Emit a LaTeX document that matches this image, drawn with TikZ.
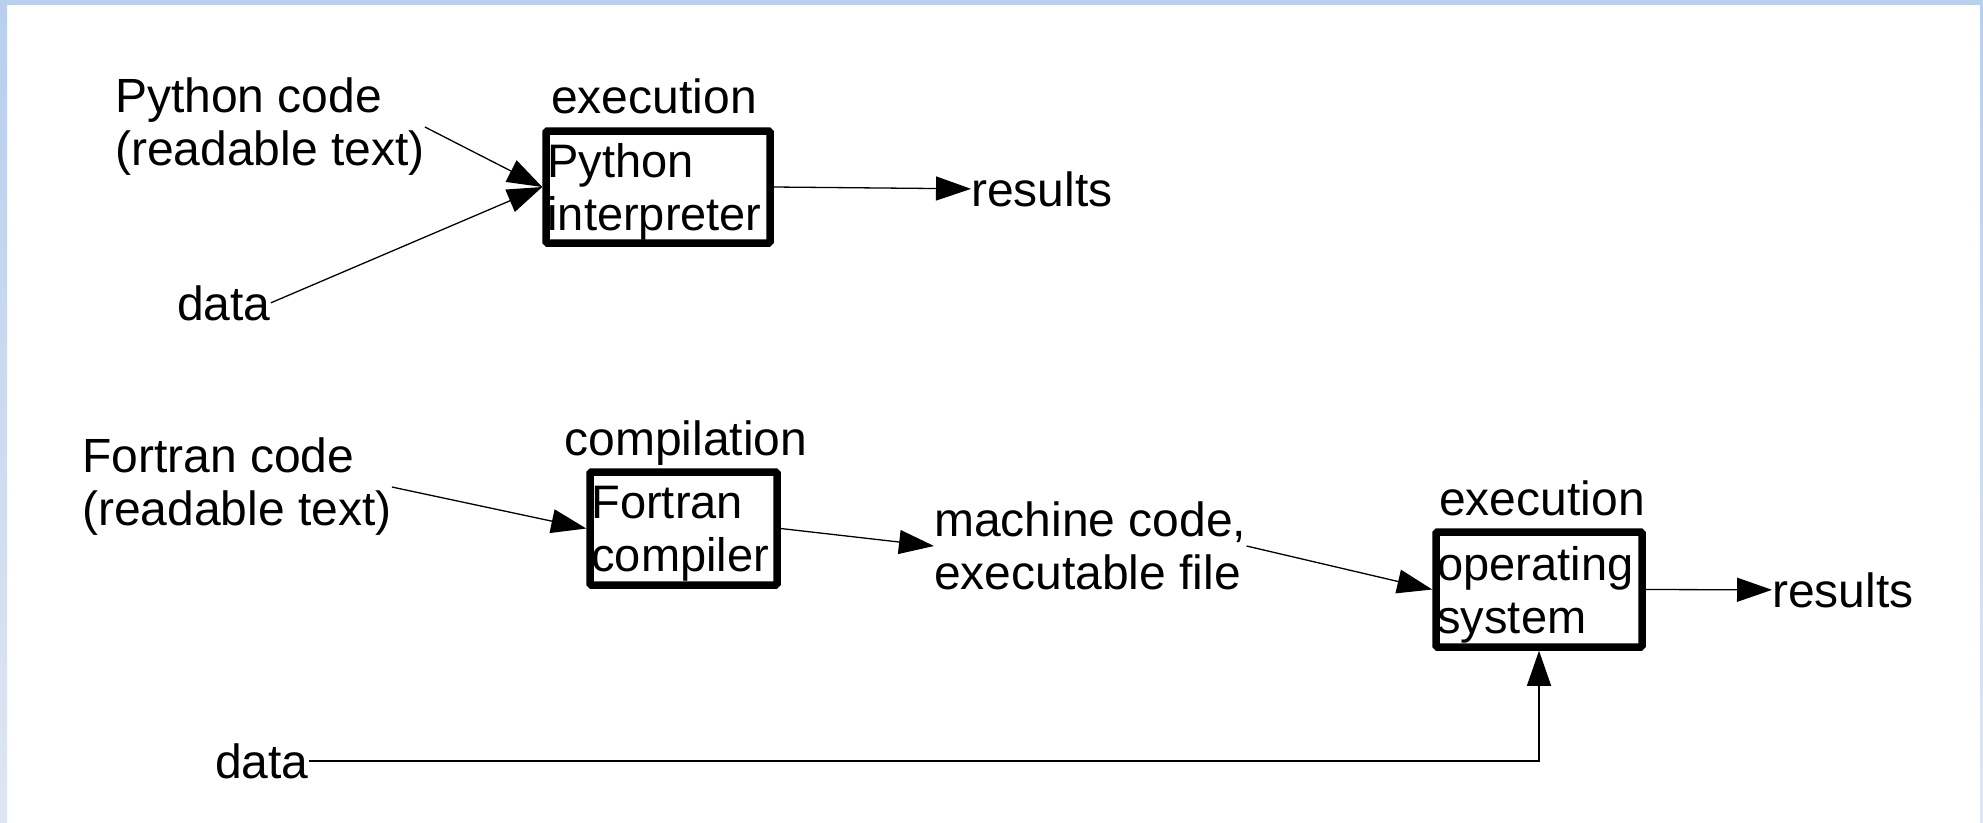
\documentclass[tikz,border=0pt]{standalone}
\usepackage{fontspec}
\setmainfont{Liberation Sans}
\usetikzlibrary{arrows.meta,calc}
\definecolor{bandtop}{HTML}{B8CFEE}
\definecolor{bandbot}{HTML}{DFE6F3}
\begin{document}
\begin{tikzpicture}[x=1pt,y=-1pt,
  txt/.style={inner sep=0pt, font=\fontsize{48}{53}\selectfont, align=left},
  box/.style={draw, line width=7.5pt, rounded corners=1.5pt, inner sep=0pt},
  boxtxt/.style={inner sep=0pt, anchor=west, font=\fontsize{47}{53}\selectfont, align=left},
  arr/.style={-{Triangle[length=35pt,width=24pt]}, line width=1.3pt, black}
]
\useasboundingbox (0,0) rectangle (1983,822);
% frame bands
\fill[bandtop] (0,0) rectangle (1983,5);
\shade[top color=bandtop, bottom color=bandbot] (0,5) rectangle (7,822);
\shade[top color=bandtop, bottom color=bandbot] (1980,5) rectangle (1983,822);

% Python part
\node[txt, anchor=west] (pycode) at (115,127) {Python code\\(readable text)};
\node[txt, anchor=base west] (pydata) at (177,320) {data};
\node[box, minimum width=224pt, minimum height=112pt] (pyint) at (658,187) {};
\node[boxtxt] (pyintT) at ($(pyint.west)+(5,5)$) {Python\\interpreter};
\node[txt, anchor=base] (pyexec) at (654,113) {execution};
\node[txt, anchor=base west] (pyres) at (971,206) {results};

\draw[arr] (pycode.east) -- (pyint.west);
\draw[arr] (pydata.east) -- (pyint.west);
\draw[arr] (pyint.east) -- (pyres.west);

% Fortran part
\node[txt, anchor=west] (fcode) at (82,487) {Fortran code\\(readable text)};
\node[box, minimum width=187pt, minimum height=113pt] (fcomp) at (683.5,528.5) {};
\node[boxtxt] (fcompT) at ($(fcomp.west)+(5,5)$) {Fortran\\compiler};
\node[txt, anchor=base] (fcompl) at (686,455) {compilation};
\node[txt, anchor=west] (mcode) at (934,546) {machine code,\\executable file};
\node[box, minimum width=206pt, minimum height=115pt] (os) at (1539,589.5) {};
\node[boxtxt] (osT) at ($(os.west)+(5,5)$) {operating\\system};
\node[txt, anchor=base] (osexec) at (1542,515) {execution};
\node[txt, anchor=base west] (fres) at (1772,607) {results};
\node[txt, anchor=base west] (fdata) at (215,778) {data};

\draw[arr] (fcode.east) -- (fcomp.west);
\draw[arr] (fcomp.east) -- (mcode.west);
\draw[arr] (mcode.east) -- (os.west);
\draw[arr] (os.east) -- (fres.west);
\draw[arr] (fdata.east) -| (os.south);
\end{tikzpicture}
\end{document}
